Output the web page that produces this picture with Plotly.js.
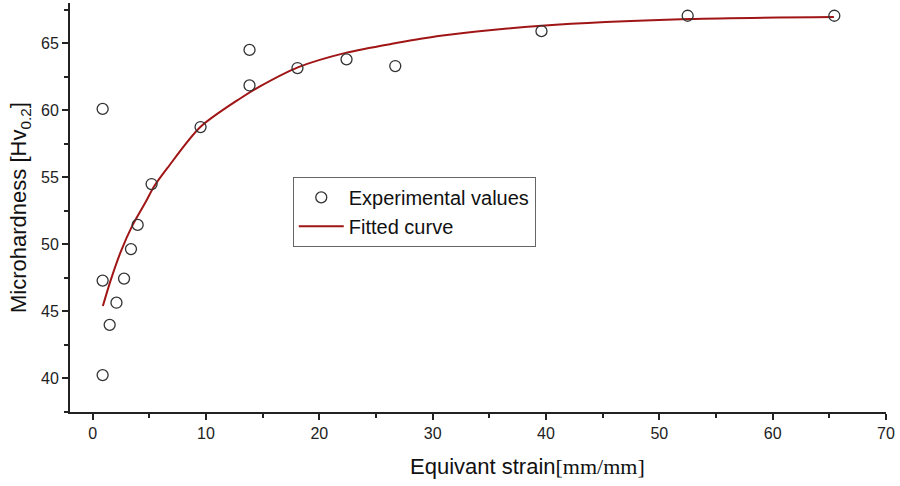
<!DOCTYPE html>
<html>
<head>
<meta charset="utf-8">
<script src="https://cdn.plot.ly/plotly-3.0.1.min.js"></script>
<style>html,body{margin:0;padding:0;background:#fff;}#chart{width:900px;height:486px;}</style>
</head>
<body>
<div id="chart"></div>
<script>
// Experimental values (equivalent strain, microhardness)
const expStrain = [0.88, 0.88, 1.5, 0.88, 2.1, 2.77, 3.38, 3.97, 5.2, 9.52, 13.84, 13.84, 18.07, 22.4, 26.7, 39.6, 52.5, 65.44];
const expHardness = [60.1, 47.3, 44.0, 40.25, 45.65, 47.45, 49.65, 51.45, 54.5, 58.75, 64.5, 61.85, 63.15, 63.8, 63.3, 65.9, 67.05, 67.05];

// Fitted curve, points
const fitStrain = [0.9, 1.6, 2.5, 3.5, 4.7, 5.4, 6.6, 9.5, 13.05, 14.8, 18.1, 22.4, 26.7, 30.7, 39.6, 52.6, 65.4];
const fitHardness = [45.4, 47.35, 49.5, 51.4, 53.2, 54.3, 55.7, 58.75, 60.9, 61.8, 63.2, 64.3, 65.0, 65.55, 66.3, 66.8, 66.95];

const xTickVals = [0, 10, 20, 30, 40, 50, 60, 70];
const yTickVals = [40, 45, 50, 55, 60, 65];

const FONT = 'Arial, "Liberation Sans", sans-serif';
const AXC = '#222';

const traces = [
  {
    x: fitStrain, y: fitHardness, type: 'scatter', mode: 'lines',
    name: 'Fitted curve', legendrank: 2,
    line: {color: '#a01515', width: 2, shape: 'spline', smoothing: 0.8}
  },
  {
    x: expStrain, y: expHardness, type: 'scatter', mode: 'markers',
    name: 'Experimental values', legendrank: 1,
    marker: {symbol: 'circle-open', size: 11, color: '#333', line: {width: 1.3, color: '#333'}}
  }
];

const layout = {
  width: 900, height: 486,
  margin: {l: 70, r: 14, t: 3, b: 74},
  paper_bgcolor: '#fff', plot_bgcolor: '#fff',
  font: {family: FONT, color: AXC, size: 16},
  showlegend: true,
  legend: {
    x: 0.273, y: 0.575, xanchor: 'left', yanchor: 'top',
    bordercolor: '#666', borderwidth: 1, bgcolor: '#fff',
    font: {family: FONT, size: 20, color: '#111'},
    itemwidth: 45, tracegroupgap: 0
  },
  xaxis: {
    range: [-2, 70], showgrid: false, zeroline: false,
    showline: true, linecolor: AXC, linewidth: 2,
    ticks: 'outside', ticklen: 6, tickwidth: 2, tickcolor: AXC,
    tickvals: xTickVals, tickfont: {size: 16, family: FONT, color: AXC},
    minor: {ticks: 'outside', ticklen: 4, tickwidth: 2, tickcolor: AXC, dtick: 5, showgrid: false}
  },
  yaxis: {
    range: [37.5, 68], showgrid: false, zeroline: false,
    showline: true, linecolor: AXC, linewidth: 2,
    ticks: 'outside', ticklen: 6, tickwidth: 2, tickcolor: AXC,
    tickvals: yTickVals, tickfont: {size: 16, family: FONT, color: AXC},
    minor: {ticks: 'outside', ticklen: 4, tickwidth: 2, tickcolor: AXC, dtick: 2.5, showgrid: false},
    title: {text: 'Microhardness [Hv<sub>0.2</sub>]', font: {size: 22, family: FONT, color: '#111'}, standoff: 8}
  },
  annotations: [
    {
      xref: 'paper', yref: 'paper', x: (527 - 70) / 816, y: (412 - 467) / 409,
      xanchor: 'center', yanchor: 'middle', showarrow: false,
      text: 'Equivant strain<span style="font-family:\'Liberation Serif\', \'Times New Roman\', serif">[mm/mm]</span>',
      font: {size: 22, family: FONT, color: '#111'}
    }
  ]
};

Plotly.newPlot('chart', traces, layout, {displayModeBar: false, staticPlot: true});
</script>
</body>
</html>
